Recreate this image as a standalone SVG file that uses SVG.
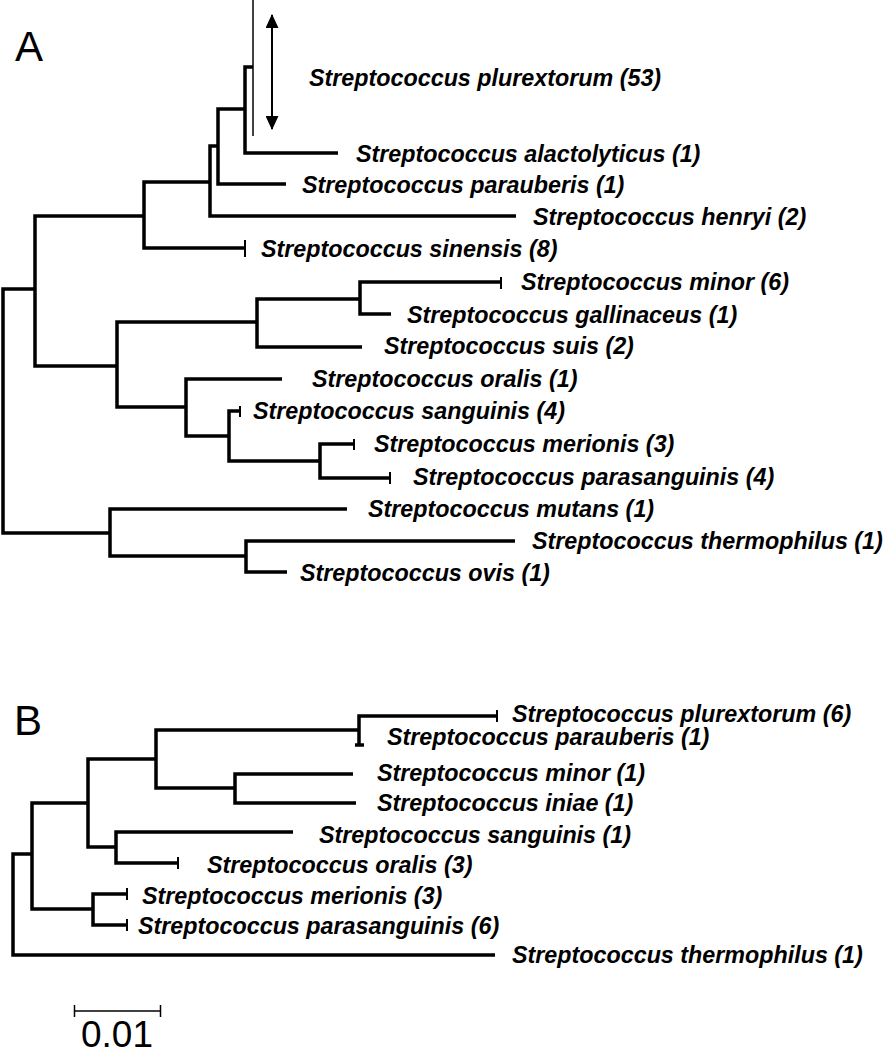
<svg xmlns="http://www.w3.org/2000/svg" width="884" height="1050" viewBox="0 0 884 1050">
<defs>
<style>
.br{fill:none;stroke:#000;stroke-width:3.5;stroke-linejoin:miter}
.tk{fill:none;stroke:#000;stroke-width:2}
.thin{fill:none;stroke:#000;stroke-width:1.5}
.lb{font-family:"Liberation Sans",Arial,Helvetica,sans-serif;font-weight:bold;font-style:italic;font-size:23.3px;fill:#000}
.pl{font-family:"Liberation Sans",Arial,Helvetica,sans-serif;font-size:42px;fill:#000}
</style>
<marker id="ah" viewBox="0 0 14 13" refX="13" refY="6.5" markerWidth="14" markerHeight="13" markerUnits="userSpaceOnUse" orient="auto-start-reverse">
<path d="M0 0 L14 6.5 L0 13 Z" fill="#000"/>
</marker>
</defs>
<rect width="884" height="1050" fill="#fff"/>
<text class="pl" x="15" y="61">A</text>
<text class="pl" x="14" y="735">B</text>
<g id="connectors">
<!-- Panel A -->
<path class="br" d="M35 289 H3 V533 H110"/>
<path class="br" d="M144 216 H35 V366 H117"/>
<path class="br" d="M210 182 H144 V248 H245"/>
<path class="br" d="M218 146 H210 V216 H516"/>
<path class="br" d="M245 109 H218 V184 H286"/>
<path class="br" d="M253 67 H245 V153 H338"/>
<path class="br" d="M257 322 H117 V407 H186"/>
<path class="br" d="M360 299 H257 V347 H362"/>
<path class="br" d="M501 282 H360 V314 H391"/>
<path class="br" d="M282 379 H186 V436 H229"/>
<path class="br" d="M240 411 H229 V461 H320"/>
<path class="br" d="M354 444 H320 V478 H390"/>
<path class="br" d="M347 509 H110 V556 H246"/>
<path class="br" d="M515 541 H246 V572 H287"/>
<line class="tk" x1="245" y1="240" x2="245" y2="257"/>
<line class="tk" x1="501" y1="277" x2="501" y2="289"/>
<line class="tk" x1="240" y1="406" x2="240" y2="417"/>
<line class="tk" x1="354" y1="439" x2="354" y2="450"/>
<line class="tk" x1="390" y1="472" x2="390" y2="484"/>
<line class="thin" x1="253" y1="0" x2="253" y2="136"/>
<line class="tk" x1="272" y1="15" x2="272" y2="129" marker-start="url(#ah)" marker-end="url(#ah)"/>
<!-- Panel B -->
<path class="br" d="M32 854 H13 V955 H495"/>
<path class="br" d="M88 803 H32 V909 H93"/>
<path class="br" d="M156 759 H88 V847 H116"/>
<path class="br" d="M359 730 H156 V788 H235"/>
<path class="br" d="M497 716 H359 V745"/>
<path class="br" d="M355 745 H364"/>
<path class="br" d="M353 774 H235 V803 H356"/>
<path class="br" d="M293 832 H116 V863 H178"/>
<path class="br" d="M127 894 H93 V925 H127"/>
<line class="tk" x1="497" y1="710" x2="497" y2="722"/>
<line class="tk" x1="178" y1="857" x2="178" y2="869"/>
<line class="tk" x1="127" y1="888" x2="127" y2="900"/>
<line class="tk" x1="127" y1="919" x2="127" y2="931"/>
<!-- scale bar -->
<line class="thin" x1="74" y1="1011" x2="161" y2="1011"/>
<line class="thin" x1="74.5" y1="1005" x2="74.5" y2="1017"/>
<line class="thin" x1="160.5" y1="1005" x2="160.5" y2="1017"/>
</g>
<g id="A-plurextorum"><text class="lb" x="309" y="86">Streptococcus plurextorum (53)</text></g>
<g id="A-alactolyticus"><text class="lb" x="356" y="162">Streptococcus alactolyticus (1)</text></g>
<g id="A-parauberis"><text class="lb" x="302" y="193">Streptococcus parauberis (1)</text></g>
<g id="A-henryi"><text class="lb" x="533" y="225">Streptococcus henryi (2)</text></g>
<g id="A-sinensis"><text class="lb" x="261" y="257">Streptococcus sinensis (8)</text></g>
<g id="A-minor"><text class="lb" x="521" y="290">Streptococcus minor (6)</text></g>
<g id="A-gallinaceus"><text class="lb" x="407" y="323">Streptococcus gallinaceus (1)</text></g>
<g id="A-suis"><text class="lb" x="384" y="354">Streptococcus suis (2)</text></g>
<g id="A-oralis"><text class="lb" x="312" y="387">Streptococcus oralis (1)</text></g>
<g id="A-sanguinis"><text class="lb" x="253" y="419">Streptococcus sanguinis (4)</text></g>
<g id="A-merionis"><text class="lb" x="374" y="452">Streptococcus merionis (3)</text></g>
<g id="A-parasanguinis"><text class="lb" x="413" y="485">Streptococcus parasanguinis (4)</text></g>
<g id="A-mutans"><text class="lb" x="368" y="517">Streptococcus mutans (1)</text></g>
<g id="A-thermophilus"><text class="lb" x="532" y="549">Streptococcus thermophilus (1)</text></g>
<g id="A-ovis"><text class="lb" x="300" y="581">Streptococcus ovis (1)</text></g>
<g id="B-plurextorum"><text class="lb" x="512" y="722">Streptococcus plurextorum (6)</text></g>
<g id="B-parauberis"><text class="lb" x="387" y="745">Streptococcus parauberis (1)</text></g>
<g id="B-minor"><text class="lb" x="377" y="781">Streptococcus minor (1)</text></g>
<g id="B-iniae"><text class="lb" x="377" y="811">Streptococcus iniae (1)</text></g>
<g id="B-sanguinis"><text class="lb" x="319" y="843">Streptococcus sanguinis (1)</text></g>
<g id="B-oralis"><text class="lb" x="207" y="873">Streptococcus oralis (3)</text></g>
<g id="B-merionis"><text class="lb" x="142" y="904">Streptococcus merionis (3)</text></g>
<g id="B-parasanguinis"><text class="lb" x="138" y="934">Streptococcus parasanguinis (6)</text></g>
<g id="B-thermophilus"><text class="lb" x="512" y="963">Streptococcus thermophilus (1)</text></g>
<g id="scale-label"><text x="81" y="1047" style="font-family:'Liberation Sans',Arial,sans-serif;font-size:37px;fill:#000">0.01</text></g>
</svg>
